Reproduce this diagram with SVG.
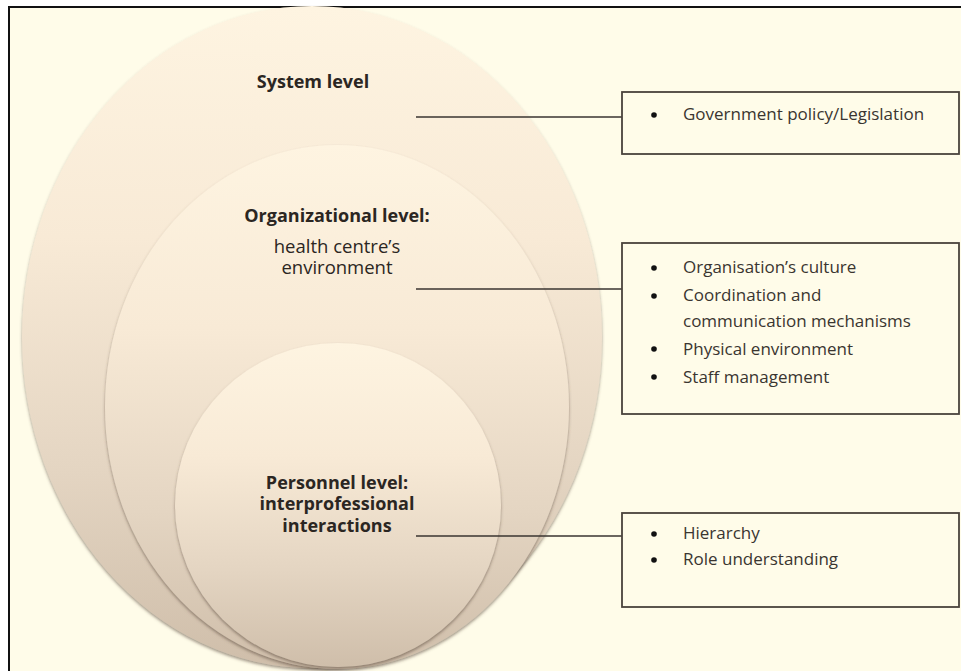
<svg xmlns="http://www.w3.org/2000/svg" width="961" height="671" viewBox="0 0 961 671">
<style>
.lbl{font-family:"Open Sans","Liberation Sans",sans-serif;fill:#2b2622;text-anchor:middle}
.b{font-weight:bold;font-size:18px}
.r{font-size:18.5px}
.item{font-family:"Open Sans","Liberation Sans",sans-serif;font-size:17px;fill:#3a3530}
.box{fill:#FFFCE9;stroke:#4a433c;stroke-width:1.8}
.conn{stroke:#3a3530;stroke-width:1.6;fill:none}
.dot{fill:#111}
</style>
<defs>
<linearGradient id="g" x1="0" y1="0" x2="0" y2="1">
<stop offset="0" stop-color="#FEF4E1"/>
<stop offset="0.35" stop-color="#F8EAD6"/>
<stop offset="0.7" stop-color="#E4D5C2"/>
<stop offset="1" stop-color="#CFBEAA"/>
</linearGradient>
<filter id="sh" x="-10%" y="-10%" width="120%" height="120%">
<feDropShadow dx="0" dy="2" stdDeviation="1.6" flood-color="#5a4a3a" flood-opacity="0.55"/>
</filter>
</defs>
<rect x="0" y="0" width="961" height="671" fill="#ffffff"/>
<rect x="9" y="7" width="960" height="670" fill="#FFFCE9" stroke="#111" stroke-width="2"/>
<g id="system-level">
<ellipse cx="312" cy="337" rx="290" ry="331" fill="url(#g)" filter="url(#sh)"/>
<text class="lbl b" x="313" y="88">System level</text>
</g>
<g id="organizational-level">
<ellipse cx="337" cy="407" rx="232" ry="262" fill="url(#g)" filter="url(#sh)"/>
<text class="lbl b" x="337" y="222">Organizational level:</text>
<text class="lbl r" x="337" y="253">health centre’s</text>
<text class="lbl r" x="337" y="274">environment</text>
</g>
<g id="personnel-level">
<ellipse cx="338" cy="505" rx="163" ry="162" fill="url(#g)" filter="url(#sh)"/>
<text class="lbl b" x="337" y="489">Personnel level:</text>
<text class="lbl b" x="337" y="510">interprofessional</text>
<text class="lbl b" x="337" y="532">interactions</text>
</g>
<g id="connectors">
<line class="conn" x1="416" y1="117" x2="622" y2="117"/>
<line class="conn" x1="416" y1="289" x2="622" y2="289"/>
<line class="conn" x1="416" y1="536" x2="622" y2="536"/>
</g>
<g id="box-system">
<rect class="box" x="622" y="92" width="337" height="62"/>
<circle class="dot" cx="654" cy="115" r="2.8"/>
<text class="item" x="683" y="120">Government policy/Legislation</text>
</g>
<g id="box-organizational">
<rect class="box" x="622" y="243" width="337" height="171"/>
<circle class="dot" cx="654" cy="268" r="2.8"/>
<text class="item" x="683" y="273">Organisation’s culture</text>
<circle class="dot" cx="654" cy="296" r="2.8"/>
<text class="item" x="683" y="301">Coordination and</text>
<text class="item" x="683" y="327">communication mechanisms</text>
<circle class="dot" cx="654" cy="349" r="2.8"/>
<text class="item" x="683" y="355">Physical environment</text>
<circle class="dot" cx="654" cy="377" r="2.8"/>
<text class="item" x="683" y="383">Staff management</text>
</g>
<g id="box-personnel">
<rect class="box" x="622" y="513" width="337" height="94"/>
<circle class="dot" cx="654" cy="534" r="2.8"/>
<text class="item" x="683" y="539">Hierarchy</text>
<circle class="dot" cx="654" cy="560" r="2.8"/>
<text class="item" x="683" y="565">Role understanding</text>
</g>
</svg>
